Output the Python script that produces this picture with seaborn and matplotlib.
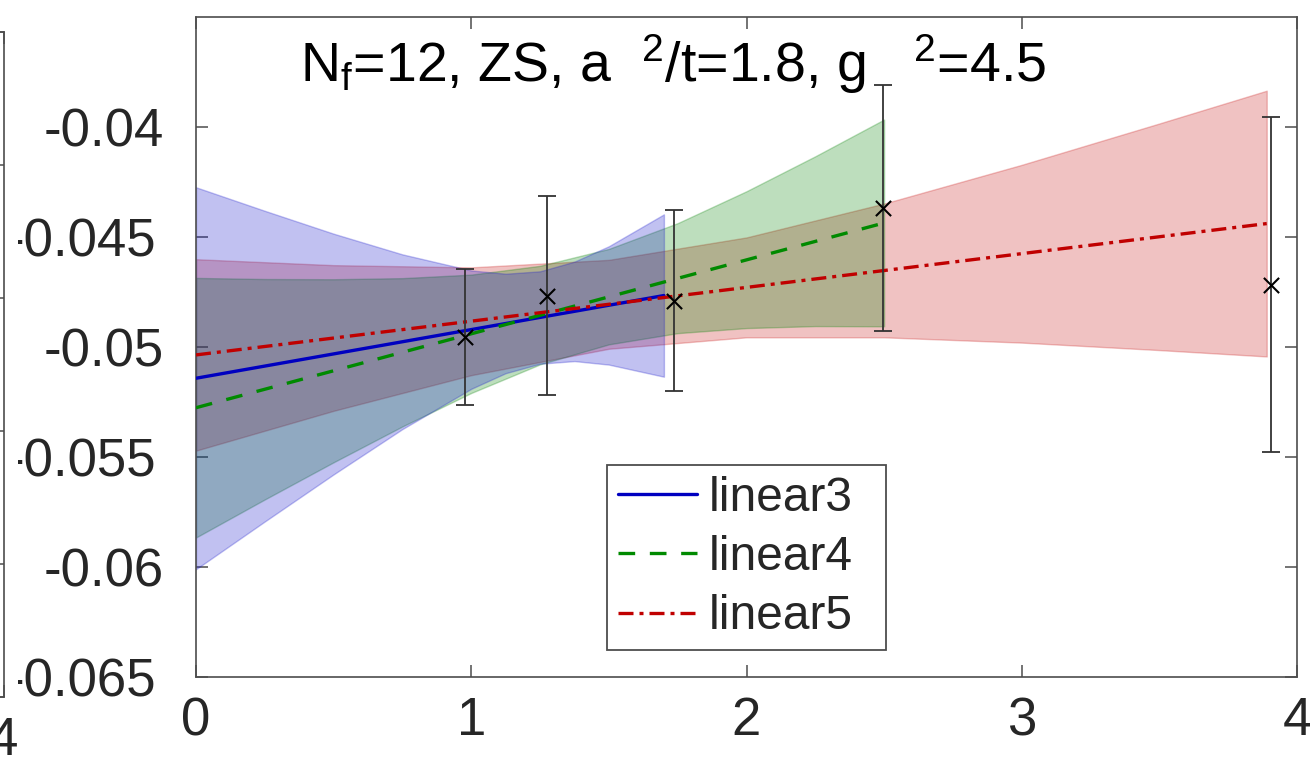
import matplotlib
matplotlib.use("Agg")
import matplotlib.pyplot as plt
import matplotlib.transforms as mtransforms
import seaborn as sns

# measured points with error bars
pt_x = [0.978, 1.276, 1.735, 2.495, 3.905]
pt_y = [-0.04955, -0.04767, -0.04790, -0.04369, -0.04717]
pt_err = [0.00308, 0.00453, 0.00411, 0.00559, 0.00762]

# fit lines (end points)
lin3_x = [0.0, 1.70]
lin3_y = [-0.05142, -0.04766]
lin4_x = [0.0, 2.50]
lin4_y = [-0.05276, -0.04436]
lin5_x = [0.0, 3.89]
lin5_y = [-0.05036, -0.04439]

# error bands of the fits
band3_x = [0, 0.25, 0.5, 0.75, 1.0, 1.125, 1.25, 1.375, 1.5, 1.7]
band3_hi = [-0.04274, -0.04381, -0.04485, -0.04579, -0.04652, -0.04667, -0.04656, -0.04612, -0.04542, -0.04397]
band3_lo = [-0.06010, -0.05793, -0.05579, -0.05373, -0.05190, -0.05119, -0.05076, -0.05064, -0.05080, -0.05135]

band4_x = [0, 0.25, 0.5, 0.75, 1.0, 1.25, 1.5, 1.75, 2.0, 2.25, 2.5]
band4_hi = [-0.04686, -0.04691, -0.04692, -0.04687, -0.04671, -0.04631, -0.04554, -0.04437, -0.04292, -0.04133, -0.03966]
band4_lo = [-0.05866, -0.05693, -0.05524, -0.05361, -0.05209, -0.05079, -0.04988, -0.04937, -0.04914, -0.04905, -0.04906]

band5_x = [0, 0.5, 1.0, 1.5, 2.0, 2.5, 3.0, 3.5, 3.89]
band5_hi = [-0.04601, -0.04628, -0.04638, -0.04604, -0.04502, -0.04348, -0.04172, -0.03984, -0.03835]
band5_lo = [-0.05471, -0.05290, -0.05128, -0.05008, -0.04956, -0.04956, -0.04980, -0.05014, -0.05043]

y_ticks = [-0.065, -0.06, -0.055, -0.05, -0.045, -0.04]
y_tick_labels = ["-0.065", "-0.06", "-0.055", "-0.05", "-0.045", "-0.04"]
x_ticks = [0, 1, 2, 3, 4]

sns.set_theme(style="ticks")
plt.rcParams["font.family"] = ["Liberation Sans", "DejaVu Sans"]
plt.rcParams["mathtext.fontset"] = "custom"
plt.rcParams["mathtext.rm"] = "Liberation Sans"
plt.rcParams["mathtext.it"] = "Liberation Sans"
plt.rcParams["mathtext.default"] = "regular"

axis_col = "#4d4d4d"
W, H = 1310, 771
fig = plt.figure(figsize=(W / 100, H / 100), dpi=100)

# neighbouring panel, almost entirely cut off on the left
ax0 = fig.add_axes([(3.5 - 1100) / W, 74 / H, 1100 / W, 665 / H])
ax0.set_xlim(0, 4)
ax0.set_ylim(0, 5)
ax0.set_xticks(x_ticks)
ax0.set_xticklabels(["", "", "", "", "4"])
ax0.set_yticks(range(6))
ax0.tick_params(axis="both", direction="in", length=8.5, width=1.1, color=axis_col,
                labelsize=38, pad=14, right=True, top=True, labelleft=False)
for s in ax0.spines.values():
    s.set_color(axis_col)
    s.set_linewidth(1.2)

ax = fig.add_axes([196 / W, 94 / H, 1101 / W, 660 / H])

# bands
ax.fill_between(band5_x, band5_lo, band5_hi, color=(0.78, 0.05, 0.05), alpha=0.25, lw=1, zorder=1)
ax.fill_between(band4_x, band4_lo, band4_hi, color=(0, 0.5, 0), alpha=0.26, lw=1, zorder=1)
ax.fill_between(band3_x, band3_lo, band3_hi, color=(0.1, 0.1, 0.8), alpha=0.27, lw=1, zorder=1)

# fit lines
sns.lineplot(x=lin3_x, y=lin3_y, ax=ax, color="#0000c0", lw=2.4, label="linear3", zorder=3)
sns.lineplot(x=lin4_x, y=lin4_y, ax=ax, color="#008a00", lw=2.4, linestyle=(0, (5, 4.4)),
             label="linear4", zorder=3)
sns.lineplot(x=lin5_x, y=lin5_y, ax=ax, color="#c00000", lw=2.4,
             linestyle=(0, (4.5, 1.8, 1.2, 1.8)), label="linear5", zorder=3)

# data
ax.errorbar(pt_x, pt_y, yerr=pt_err, fmt="none", ecolor="#333333", elinewidth=1.3,
            capsize=6.2, capthick=1.3, zorder=4)
sns.scatterplot(x=pt_x, y=pt_y, ax=ax, marker="x", color="black", s=120, linewidth=1.5, zorder=5)

ax.set_xlim(0, 4)
ax.set_ylim(-0.065, -0.035)
ax.set_xticks(x_ticks)
ax.set_yticks(y_ticks)
ax.set_yticklabels([])
ax.tick_params(axis="both", direction="in", length=8.5, width=1.1, color=axis_col,
               labelsize=38, pad=14, right=True, top=True)
for s in ax.spines.values():
    s.set_color(axis_col)
    s.set_linewidth(1.2)

# y tick labels, placed by hand (long ones sit a little further left and are cut)
clip = mtransforms.Bbox.from_extents(18, 0, 196, H)
for val, lab in zip(y_ticks, y_tick_labels):
    dx = -39.5 if len(lab) == 6 else -32.5
    tr = mtransforms.offset_copy(ax.get_yaxis_transform(), fig=fig, x=dx, y=-19.5, units="dots")
    t = ax.text(0, val, lab, transform=tr, ha="right", va="baseline", fontsize=38, color="#262626")
    t.set_clip_box(clip)
    t.set_clip_on(True)

fig.text(300 / W, 1 - 82 / H,
         r"N$_{f}$=12, ZS, a  $^{2}$/t=1.8, g   $^{2}$=4.5",
         ha="left", va="baseline", fontsize=40, color="black")

handles, labels = ax.get_legend_handles_labels()
ax.legend(handles, labels, loc="upper left", mode="expand",
          bbox_to_anchor=(607 / W, 1 - 651 / H, 279 / W, 186 / H),
          bbox_transform=fig.transFigure, borderaxespad=0, fontsize=34.5, frameon=True,
          fancybox=False, framealpha=1, edgecolor=axis_col, handlelength=1.65,
          handletextpad=0.25, borderpad=0.22, labelspacing=0.3)
ax.get_legend().get_frame().set_linewidth(1.3)

fig.savefig("out.png", dpi=100)
